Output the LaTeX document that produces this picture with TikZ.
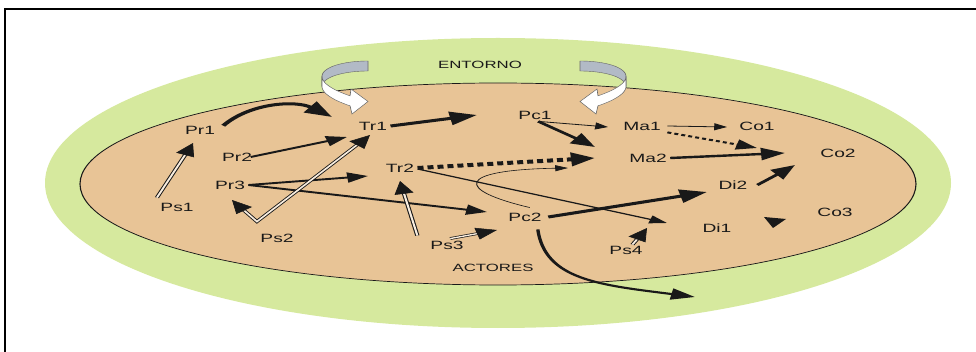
\documentclass[tikz,border=0pt]{standalone}
\usepackage{fontspec}
\setmainfont{Liberation Sans}
\usetikzlibrary{arrows.meta,calc}
\definecolor{entorno}{RGB}{214,233,158}
\definecolor{actor}{RGB}{232,196,150}
\definecolor{ribbon}{RGB}{178,186,198}
\definecolor{ink}{RGB}{25,25,25}
\tikzset{
  lbl/.style={font=\fontsize{12}{14}\selectfont, text=ink, inner sep=2pt},
  zone/.style={font=\fontsize{10.5}{12}\selectfont, text=ink},
  bigarr/.style={draw=ink, line width=3pt, -{Triangle[length=17pt,width=13pt]}},
  thickarr/.style={draw=ink, line width=2.4pt, -{Triangle[length=15pt,width=12pt]}},
  medarr/.style={draw=ink, line width=1.9pt, -{Triangle[length=13pt,width=10pt]}},
  linarr/.style={draw=ink, line width=1.2pt, -{Triangle[length=11pt,width=8pt]}},
  thinarr/.style={draw=ink, line width=0.8pt, -{Triangle[length=8pt,width=7pt]}},
  dblline/.style={draw=ink, line width=0.7pt, double=white!70!actor, double distance=1.3pt},
  dbltip/.style={draw=ink, line width=0.5pt, -{Triangle[length=13pt,width=12pt]}},
  ribbonback/.style={fill=ribbon, draw=black!60, line width=0.4pt},
  ribbonfront/.style={fill=white, draw=black!60, line width=0.4pt},
}
\newcommand\dblarr[2]{%
  \draw[dblline] (#1) -- ($(#2)!10pt!(#1)$);
  \draw[dbltip] ($(#2)!13pt!(#1)$) -- (#2);
}
\begin{document}
\begin{tikzpicture}[x=1pt,y=-1pt]
\useasboundingbox (0,0) rectangle (976,352);
\draw[line width=2pt, draw=black] (5,353) -- (5,9) -- (977,9);
\begin{scope}[transform canvas={xscale=1.6}, x=0.625pt, y=-1pt]
  % zones
  \fill[entorno] (498,183) ellipse [x radius=453, y radius=145];
  \filldraw[fill=actor, draw=ink, line width=0.7pt] (498,184) ellipse [x radius=418, y radius=101];
  % left curl
  \filldraw[ribbonback] plot[domain=0:90, samples=30, variable=\u] ({368-46*sin(\u)},{72-11*cos(\u)+18*(\u/180)^2})
     -- plot[domain=90:0, samples=30, variable=\u] ({368-46*sin(\u)},{82-11*cos(\u)+18*(\u/180)^2}) -- cycle;
  \filldraw[ribbonfront] plot[domain=90:157, samples=30, variable=\u] ({368-46*sin(\u)},{72-11*cos(\u)+18*(\u/180)^2})
     -- (351,89) -- (368,101.5) -- (352,114)
     -- plot[domain=157:90, samples=30, variable=\u] ({368-46*sin(\u)},{82-11*cos(\u)+18*(\u/180)^2}) -- cycle;
  % right curl
  \filldraw[ribbonback] plot[domain=0:90, samples=30, variable=\u] ({580+46*sin(\u)},{72-11*cos(\u)+18*(\u/180)^2})
     -- plot[domain=90:0, samples=30, variable=\u] ({580+46*sin(\u)},{82-11*cos(\u)+18*(\u/180)^2}) -- cycle;
  \filldraw[ribbonfront] plot[domain=90:157, samples=30, variable=\u] ({580+46*sin(\u)},{72-11*cos(\u)+18*(\u/180)^2})
     -- (597,89) -- (580,101.5) -- (596,114)
     -- plot[domain=157:90, samples=30, variable=\u] ({580+46*sin(\u)},{82-11*cos(\u)+18*(\u/180)^2}) -- cycle;
  % labels
  \node[zone] (entorno) at (480,65) {ENTORNO};
  \node[zone] (actores) at (493,268) {ACTORES};
  \node[lbl] (pr1) at (200,130) {Pr1};
  \node[lbl] (tr1) at (373,126) {Tr1};
  \node[lbl] (pc1) at (535,115) {Pc1};
  \node[lbl] (ma1) at (642,126) {Ma1};
  \node[lbl] (co1) at (757,126) {Co1};
  \node[lbl] (pr2) at (237,157) {Pr2};
  \node[lbl] (ma2) at (648,158) {Ma2};
  \node[lbl] (co2) at (838,153) {Co2};
  \node[lbl] (tr2) at (400,168) {Tr2};
  \node[lbl] (pr3) at (230,185) {Pr3};
  \node[lbl] (di2) at (733,185) {Di2};
  \node[lbl] (ps1) at (177,207) {Ps1};
  \node[lbl] (pc2) at (525,217) {Pc2};
  \node[lbl] (co3) at (835,212) {Co3};
  \node[lbl] (di1) at (717,228) {Di1};
  \node[lbl] (ps2) at (277,238) {Ps2};
  \node[lbl] (ps3) at (447,245) {Ps3};
  \node[lbl] (ps4) at (626,250) {Ps4};
  % free ends
  \coordinate (t1) at (332,117);
  \coordinate (t2) at (477,115);
  \coordinate (t3) at (347,137);
  \coordinate (t4) at (368,176);
  \coordinate (t5) at (487,212);
  \coordinate (t6) at (193,143);
  \coordinate (t7) at (232,200);
  \coordinate (t8) at (370,135);
  \coordinate (t9) at (400,181);
  \coordinate (t10) at (497,230);
  \coordinate (t11) at (595,158);
  \coordinate (t12) at (667,223);
  \coordinate (t13) at (568,168);
  \coordinate (t14) at (608,127);
  \coordinate (t15) at (595,147);
  \coordinate (t16) at (727,127);
  \coordinate (t17) at (757,148);
  \coordinate (t18) at (785,153);
  \coordinate (t19) at (795,165);
  \coordinate (t20) at (707,192);
  \coordinate (t21) at (647,228);
  \coordinate (t22) at (695,297);
  \coordinate (ps2v) at ([yshift=10pt]ps2.north west);
  % connectors
  \draw[bigarr] ([xshift=3pt,yshift=-2pt]pr1.north east) .. controls (250,103) and (295,100) .. (t1);
  \draw[bigarr] (tr1.east) -- (t2);
  \draw[medarr] ([xshift=-3pt]pr2.east) -- (t3);
  \draw[medarr] (pr3.east) -- (t4);
  \draw[medarr] (pr3.east) -- (t5);
  \dblarr{[yshift=3pt]ps1.north west}{t6}
  \draw[dblline] ($(t7)!10pt!(ps2v)$) -- (ps2v) -- ($(t8)!10pt!(ps2v)$);
  \draw[dbltip] ($(t7)!13pt!(ps2v)$) -- (t7);
  \draw[dbltip] ($(t8)!13pt!(ps2v)$) -- (t8);
  \dblarr{[xshift=-6pt,yshift=3pt]ps3.north west}{t9}
  \dblarr{[xshift=2pt]ps3.north}{t10}
  \dblarr{[xshift=4pt,yshift=-1pt]ps4.north}{t21}
  \draw[draw=ink, line width=4pt, dash pattern=on 3.75pt off 2.5pt, -{Triangle[length=15pt,width=13pt]}] (tr2.east) -- (t11);
  \draw[linarr] ([yshift=-1pt]tr2.east) -- (t12);
  \draw[draw=ink, line width=0.6pt, -{Triangle[length=8pt,width=6pt]}] ([xshift=3pt,yshift=3pt]pc2.north) .. controls (455,190) and (455,170) .. (t13);
  \draw[thinarr] ([xshift=2pt]pc1.south) -- (t14);
  \draw[thickarr] ([xshift=2pt]pc1.south) -- (t15);
  \draw[thinarr] ([xshift=2pt]ma1.east) -- (t16);
  \draw[draw=ink, line width=2pt, dash pattern=on 2.5pt off 2pt, -{Triangle[length=13pt,width=10pt]}] ([xshift=2pt]ma1.south east) -- (t17);
  \draw[thickarr] (ma2.east) -- (t18);
  \draw[thickarr] ([xshift=4pt]di2.east) -- (t19);
  \draw[bigarr] ([xshift=2pt]pc2.east) -- (t20);
  \draw[draw=ink, line width=2.1pt, -{Triangle[length=15pt,width=11pt]}] ([xshift=8pt,yshift=-6pt]pc2.south) .. controls (545,280) and (600,285) .. (t22);
  \fill[ink] (764,217) -- (786,219) -- (773,228) -- cycle;
\end{scope}
\end{tikzpicture}
\end{document}
